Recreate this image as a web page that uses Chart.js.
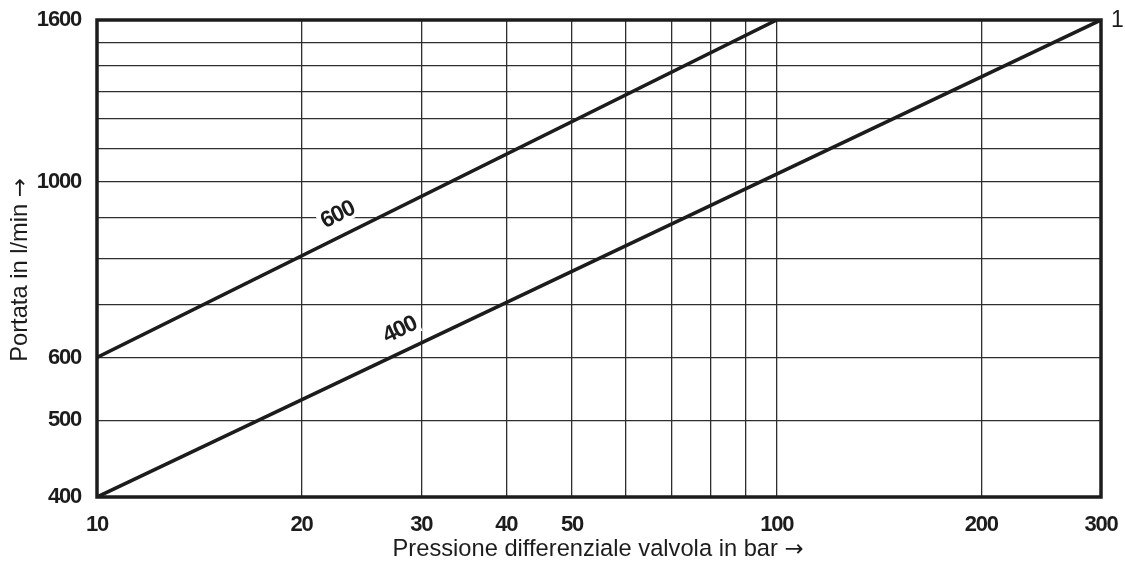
<!DOCTYPE html>
<html lang="it">
<head>
<meta charset="utf-8">
<title>Portata in funzione della pressione differenziale</title>
<script src="https://cdn.jsdelivr.net/npm/chart.js@4.4.1/dist/chart.umd.min.js"></script>
<style>
  html, body { margin: 0; padding: 0; background: #fff; }
</style>
</head>
<body>
<canvas id="chart" width="1125" height="561"></canvas>
<script>
// Valve curves: differential pressure (bar) -> flow (l/min), straight on log-log paper
const pressure600 = [10, 100];
const flow600 = [600, 1600];
const pressure400 = [10, 300];
const flow400 = [400, 1600];
const curveNames = ['600', '400'];
// pressure (bar) at which each curve's name is written
const curveNameAt = [22.6, 27.9];

// grid lines and the ones that carry a number
const xGrid = [10, 20, 30, 40, 50, 60, 70, 80, 90, 100, 200, 300];
const xLabelled = [10, 20, 30, 40, 50, 100, 200, 300];
const yGrid = [400, 500, 600, 700, 800, 900, 1000, 1100, 1200, 1300, 1400, 1500, 1600];
const yLabelled = [400, 500, 600, 1000, 1600];

const xTitle = 'Pressione differenziale valvola in bar';
const yTitle = 'Portata in l/min';
const arrow = '\u2192';
const cornerNote = '1';

const INK = '#1c1c1c';
const GRID = '#2e2e2e';
const SANS = '"Liberation Sans", Arial, "DejaVu Sans", sans-serif';
const ARROW_FONT = '"DejaVu Sans", sans-serif';
const TIGHT = '-1.2px';   // squeezes the bold numerals a little
const TITLE_SIZE = 23.7;

const toPoints = (xs, ys) => xs.map((v, i) => ({ x: v, y: ys[i] }));
const noPadding = s => { s.paddingLeft = 0; s.paddingRight = 0; s.paddingTop = 0; s.paddingBottom = 0; };

// axis title followed by an arrow, centred on (0, 0) of the current transform
function titleWithArrow(ctx, text) {
  const textFont = TITLE_SIZE + 'px ' + SANS;
  const arrowFont = (TITLE_SIZE - 1) + 'px ' + ARROW_FONT;
  ctx.font = textFont;
  const wText = ctx.measureText(text + ' ').width;
  ctx.font = arrowFont;
  const wArrow = ctx.measureText(arrow).width;
  const start = -(wText + wArrow) / 2;
  ctx.textAlign = 'left';
  ctx.textBaseline = 'alphabetic';
  ctx.font = textFont;
  ctx.fillText(text, start, 0);
  ctx.font = arrowFont;
  ctx.fillText(arrow, start + wText, 0);
}

const sheetPlugin = {
  id: 'sheet',
  beforeDraw(chart) {
    const c = chart.ctx;
    c.fillStyle = '#fff';
    c.fillRect(0, 0, chart.width, chart.height);
    c.letterSpacing = TIGHT;
  },
  beforeDatasetsDraw(chart) {
    // curve names on white plates that break the grid behind them
    const { ctx, scales: { x, y } } = chart;
    chart.data.datasets.forEach((ds, i) => {
      const pts = ds.data;
      const a = { x: x.getPixelForValue(pts[0].x), y: y.getPixelForValue(pts[0].y) };
      const last = pts[pts.length - 1];
      const b = { x: x.getPixelForValue(last.x), y: y.getPixelForValue(last.y) };
      const angle = Math.atan2(b.y - a.y, b.x - a.x);
      const px = x.getPixelForValue(curveNameAt[i]);
      const py = a.y + (px - a.x) / (b.x - a.x) * (b.y - a.y);
      ctx.save();
      ctx.translate(px, py - 23);
      ctx.rotate(angle);
      ctx.letterSpacing = TIGHT;
      ctx.font = 'bold 23px ' + SANS;
      const w = ctx.measureText(curveNames[i]).width;
      ctx.fillStyle = '#fff';
      ctx.fillRect(-w / 2 - 3, -12, w + 6, 22);
      ctx.fillStyle = INK;
      ctx.textAlign = 'center';
      ctx.textBaseline = 'middle';
      ctx.fillText(curveNames[i], 0, 0);
      ctx.restore();
    });
  },
  afterDatasetsDraw(chart) {
    const { ctx, chartArea: a } = chart;
    ctx.save();
    ctx.strokeStyle = INK;
    ctx.lineWidth = 3.5;
    ctx.strokeRect(a.left, a.top, a.right - a.left, a.bottom - a.top);
    ctx.restore();
  },
  afterDraw(chart) {
    const { ctx, chartArea: a } = chart;
    ctx.save();
    ctx.letterSpacing = '0px';
    ctx.fillStyle = INK;
    ctx.save();
    ctx.translate(598, 556);
    titleWithArrow(ctx, xTitle);
    ctx.restore();
    ctx.save();
    ctx.translate(27, 270);
    ctx.rotate(-Math.PI / 2);
    titleWithArrow(ctx, yTitle);
    ctx.restore();
    ctx.font = '23px ' + SANS;
    ctx.textAlign = 'left';
    ctx.textBaseline = 'middle';
    ctx.fillText(cornerNote, a.right + 10, a.top + 1);
    ctx.restore();
  }
};

new Chart(document.getElementById('chart'), {
  type: 'line',
  data: {
    datasets: [
      { label: curveNames[0], data: toPoints(pressure600, flow600) },
      { label: curveNames[1], data: toPoints(pressure400, flow400) }
    ]
  },
  options: {
    responsive: false,
    animation: false,
    devicePixelRatio: 1,
    layout: { padding: { top: 20, right: 24, bottom: 0, left: 0 } },
    elements: {
      line: { borderColor: INK, borderWidth: 3.6, tension: 0, borderCapStyle: 'butt' },
      point: { radius: 0, hoverRadius: 0 }
    },
    plugins: { legend: { display: false }, tooltip: { enabled: false } },
    events: [],
    scales: {
      x: {
        type: 'logarithmic',
        min: 10,
        max: 300,
        afterBuildTicks: s => { s.ticks = xGrid.map(v => ({ value: v })); },
        afterFit: s => { s.height = 64; noPadding(s); },
        grid: { color: GRID, lineWidth: 1.3, drawTicks: false },
        border: { display: false },
        ticks: {
          autoSkip: false,
          maxRotation: 0,
          padding: 15,
          color: INK,
          font: { family: SANS, size: 22, weight: 'bold' },
          callback: v => xLabelled.includes(v) ? String(v) : ''
        }
      },
      y: {
        type: 'logarithmic',
        min: 400,
        max: 1600,
        afterBuildTicks: s => { s.ticks = yGrid.map(v => ({ value: v })); },
        afterFit: s => { s.width = 97; noPadding(s); },
        grid: { color: GRID, lineWidth: 1.3, drawTicks: false },
        border: { display: false },
        ticks: {
          autoSkip: false,
          padding: 16,
          color: INK,
          font: { family: SANS, size: 22, weight: 'bold' },
          callback: v => yLabelled.includes(v) ? String(v) : ''
        }
      }
    }
  },
  plugins: [sheetPlugin]
});
</script>
</body>
</html>
